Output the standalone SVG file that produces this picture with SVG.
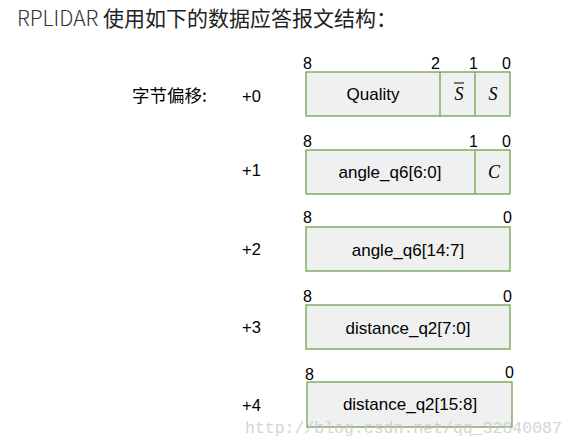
<svg xmlns="http://www.w3.org/2000/svg" width="576" height="446" viewBox="0 0 576 446">
<style>
.box{fill:#f0f0f0;stroke:#72a04f;stroke-width:1.3}
.div{stroke:#72a04f;stroke-width:1.3}
.t{font-family:"Liberation Sans",Arial,sans-serif;font-size:16.5px;fill:#000}
.bit{font-family:"Liberation Sans",Arial,sans-serif;font-size:16px;fill:#000}
.lbl{font-family:"Liberation Sans",Arial,sans-serif;font-size:17px;fill:#000;text-anchor:middle}
.m{font-family:"Liberation Serif","Times New Roman",serif;font-style:italic;font-size:18px;fill:#000;text-anchor:middle}
</style>
<rect width="576" height="446" fill="#fff"/>
<text x="17" y="26" font-family="'Noto Sans CJK SC',sans-serif" font-size="21" fill="#333"><tspan font-weight="300">RPLIDAR </tspan><tspan fill="#222">使用如下的数据应答报文结构：</tspan></text>
<g id="offset-label">
<text x="132" y="102" font-family="'Noto Sans CJK SC',sans-serif" font-size="17.5" fill="#000">字节偏移:</text>
</g>
<g id="byte0">
<text class="t" x="242" y="102">+0</text>
<rect class="box" x="306" y="72" width="204" height="44"/>
<line class="div" x1="440" y1="72" x2="440" y2="116"/>
<line class="div" x1="475" y1="72" x2="475" y2="116"/>
<text class="bit" x="303" y="69">8</text>
<text class="bit" x="431" y="69">2</text>
<text class="bit" x="469" y="69">1</text>
<text class="bit" x="502" y="69">0</text>
<text class="lbl" x="373" y="100">Quality</text>
<text class="m" x="459" y="100">S</text>
<line x1="454" y1="83" x2="464" y2="83" stroke="#000" stroke-width="1"/>
<text class="m" x="493" y="100">S</text>
</g>
<g id="byte1">
<text class="t" x="242" y="176">+1</text>
<rect class="box" x="306" y="150" width="204" height="44"/>
<line class="div" x1="475" y1="150" x2="475" y2="194"/>
<text class="bit" x="303" y="147">8</text>
<text class="bit" x="469" y="147">1</text>
<text class="bit" x="502" y="147">0</text>
<text class="lbl" x="390" y="178">angle_q6[6:0]</text>
<text class="m" x="494" y="178">C</text>
</g>
<g id="byte2">
<text class="t" x="242" y="255">+2</text>
<rect class="box" x="306" y="227" width="204" height="44"/>
<text class="bit" x="303" y="223">8</text>
<text class="bit" x="503" y="223">0</text>
<text class="lbl" x="408" y="256">angle_q6[14:7]</text>
</g>
<g id="byte3">
<text class="t" x="242" y="333">+3</text>
<rect class="box" x="306" y="305" width="204" height="44"/>
<text class="bit" x="303" y="302">8</text>
<text class="bit" x="503" y="302">0</text>
<text class="lbl" x="408" y="334">distance_q2[7:0]</text>
</g>
<g id="byte4">
<text class="t" x="242" y="411">+4</text>
<rect class="box" x="307" y="382" width="205" height="45"/>
<text class="bit" x="305" y="380">8</text>
<text class="bit" x="505" y="378">0</text>
<text class="lbl" x="410" y="410">distance_q2[15:8]</text>
</g>
<g id="connectors"></g>
<text x="245" y="433" font-family="'Liberation Mono','Courier New',monospace" font-size="16.5" fill="#c8c8c8" opacity="0.75">http://blog.csdn.net/qq_32840087</text>
</svg>
